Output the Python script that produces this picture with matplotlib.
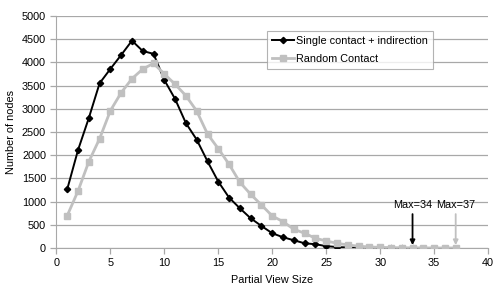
import matplotlib.pyplot as plt

plt.rcParams['font.family'] = ['Liberation Sans', 'DejaVu Sans']

# view sizes and node counts
sizes_single = list(range(1, 34))
nodes_single = [1265, 2110, 2800, 3550, 3860, 4160, 4468, 4245, 4185, 3620,
                3210, 2690, 2335, 1868, 1430, 1085, 855, 640, 474, 317,
                231, 166, 101, 80, 40, 20, 10, 5, 3, 2, 1, 0, 0]
sizes_random = list(range(1, 38))
nodes_random = [696, 1228, 1860, 2355, 2959, 3347, 3649, 3857, 3980, 3750,
                3528, 3282, 2952, 2457, 2140, 1804, 1416, 1157, 927, 690,
                567, 403, 317, 209, 151, 101, 65, 37, 22, 12, 6, 3, 2, 1,
                0, 0, 0]
y_ticks = list(range(0, 5001, 500))
x_ticks = list(range(0, 41, 5))

GRID = '#a8a8a8'
LIGHT = '#c0c0c0'
FS = 7.8

fig = plt.figure(figsize=(4.95, 2.86), dpi=100)
ax = fig.add_axes([0.114, 0.133, 0.872, 0.811])

ax.plot(sizes_single, nodes_single, color='black', lw=1.4, marker='D',
        ms=3.2, label='Single contact + indirection', zorder=3)
ax.plot(sizes_random, nodes_random, color=LIGHT, lw=2, marker='s',
        ms=4.5, label='Random Contact', zorder=4)

ax.set_xlim(0, 40)
ax.set_ylim(0, 5000)
ax.set_xticks(x_ticks)
ax.set_yticks(y_ticks)
ax.yaxis.grid(True, color=GRID, lw=0.9)
ax.set_axisbelow(True)
for side in ('top', 'right'):
    ax.spines[side].set_visible(False)
for side in ('left', 'bottom'):
    ax.spines[side].set_color(GRID)
ax.tick_params(axis='both', labelsize=FS, color=GRID, length=4, width=0.9)

ax.set_xlabel('Partial View Size', fontsize=FS, labelpad=5)
ax.set_ylabel('Number of nodes', fontsize=FS, labelpad=4)

leg = ax.legend(loc='upper left', bbox_to_anchor=(0.488, 0.935), fontsize=FS,
                frameon=True, fancybox=False, handlelength=2.0,
                handletextpad=0.2, borderpad=0.45, labelspacing=0.75,
                borderaxespad=0)
leg.get_frame().set_edgecolor('#a0a0a0')
leg.get_frame().set_linewidth(0.8)

ax.annotate('Max=34', xy=(33, 60), xytext=(33, 820), ha='center',
            va='bottom', fontsize=FS,
            arrowprops=dict(arrowstyle='-|>', color='black', lw=1.3,
                            shrinkA=1, shrinkB=0, mutation_scale=7))
ax.annotate('Max=37', xy=(37, 60), xytext=(37, 820), ha='center',
            va='bottom', fontsize=FS,
            arrowprops=dict(arrowstyle='-|>', color=LIGHT, lw=1.3,
                            shrinkA=1, shrinkB=0, mutation_scale=7))

fig.savefig('out.png', dpi=100)
